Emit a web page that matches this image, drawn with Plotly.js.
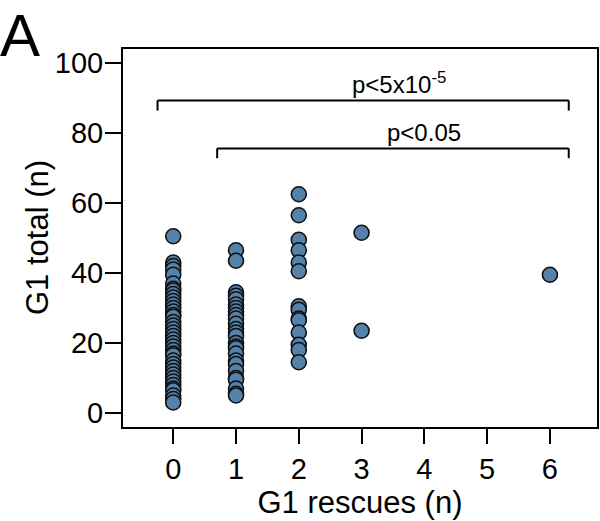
<!DOCTYPE html>
<html>
<head>
<meta charset="utf-8">
<script src="https://cdn.plot.ly/plotly-3.0.1.min.js"></script>
<style>html,body{margin:0;padding:0;background:#fff;} #chart{width:600px;height:521px;}</style>
</head>
<body>
<div id="chart"></div>
<script>
// G1 total (n) values for each G1 rescues (n) group
const rescues0 = [50.5, 43, 42, 41, 39.5, 37, 35.5, 35, 34, 33, 32, 31, 30, 29, 28, 27.5, 26, 25, 24, 23, 22, 21, 20, 19, 18, 17, 16.5, 15, 14, 13, 12, 11, 10, 9, 8, 7, 6.5, 5, 4, 3];
const rescues1 = [46.5, 43.5, 34.5, 33.5, 32.5, 31, 30, 29, 28, 27, 25.5, 24, 23, 22, 20, 19, 18.5, 17, 15, 14, 12, 10, 9.5, 7, 5.5, 5];
const rescues2 = [62.5, 56.5, 49.5, 46.5, 43, 40.5, 30.5, 29.5, 27, 26.5, 23, 19.5, 18, 14.5];
const rescues3 = [51.5, 23.5];
const rescues6 = [39.5];

const groupX = [0, 1, 2, 3, 6];
const groupVals = [rescues0, rescues1, rescues2, rescues3, rescues6];
const xs = [], ys = [];
groupX.forEach((g, i) => groupVals[i].forEach(v => { xs.push(g); ys.push(v); }));

const xTicks = [0, 1, 2, 3, 4, 5, 6];
const yTicks = [0, 20, 40, 60, 80, 100];

// significance brackets
const bracketStart = [-0.25, 0.7];
const bracketEnd = [6.3, 6.3];
const bracketY = [89.3, 75.6];
const bracketDrop = [86.4, 72.8];
const bracketLabel = ['p&lt;5x10<sup>-5</sup>', 'p&lt;0.05'];
const bracketLabelX = [3.6, 4.0];

const FONT = 'Liberation Sans, Arial, sans-serif';

const shapes = [];
const annotations = [];
for (let i = 0; i < bracketStart.length; i++) {
  shapes.push({type: 'line', xref: 'x', yref: 'y', x0: bracketStart[i], x1: bracketEnd[i], y0: bracketY[i], y1: bracketY[i], line: {color: '#000', width: 2}});
  shapes.push({type: 'line', xref: 'x', yref: 'y', x0: bracketStart[i], x1: bracketStart[i], y0: bracketY[i], y1: bracketDrop[i], line: {color: '#000', width: 2}});
  shapes.push({type: 'line', xref: 'x', yref: 'y', x0: bracketEnd[i], x1: bracketEnd[i], y0: bracketY[i], y1: bracketDrop[i], line: {color: '#000', width: 2}});
  annotations.push({xref: 'x', yref: 'y', x: bracketLabelX[i], y: bracketY[i], text: bracketLabel[i], showarrow: false, xanchor: 'center', yanchor: 'bottom', yshift: 0, font: {family: FONT, size: 24, color: '#000'}});
}
// panel letter
annotations.push({xref: 'paper', yref: 'paper', x: 0, y: 1, xanchor: 'left', yanchor: 'top', text: 'A', showarrow: false, xshift: -125, yshift: 49, font: {family: FONT, size: 60, color: '#000'}});
// y axis title
annotations.push({xref: 'paper', yref: 'paper', x: 0, y: 0.5, xanchor: 'center', yanchor: 'middle', text: 'G1 total (n)', textangle: -90, showarrow: false, xshift: -86, font: {family: FONT, size: 31, color: '#000'}});

const trace = {
  x: xs, y: ys, type: 'scatter', mode: 'markers',
  marker: {size: 15, color: '#5482aa', line: {color: '#111', width: 1.6}},
  cliponaxis: false, hoverinfo: 'skip'
};

const layout = {
  width: 600, height: 521,
  margin: {l: 123, r: 3, t: 49, b: 94},
  paper_bgcolor: '#fff', plot_bgcolor: '#fff',
  showlegend: false,
  font: {family: FONT, color: '#000'},
  xaxis: {
    range: [-0.8, 6.75], tickvals: xTicks, ticktext: xTicks.map(String),
    showgrid: false, zeroline: false, showline: true, mirror: true, linecolor: '#000', linewidth: 2,
    ticks: 'outside', ticklen: 15, tickwidth: 2, tickcolor: '#000',
    tickfont: {family: FONT, size: 29, color: '#000'},
    title: {text: 'G1 rescues (n)', font: {family: FONT, size: 31, color: '#000'}, standoff: 6}
  },
  yaxis: {
    range: [-4, 104], tickvals: yTicks, ticktext: yTicks.map(String),
    showgrid: false, zeroline: false, showline: true, mirror: true, linecolor: '#000', linewidth: 2,
    ticks: 'outside', ticklen: 16, tickwidth: 2, tickcolor: '#000',
    ticklabelstandoff: -4,
    tickfont: {family: FONT, size: 29, color: '#000'}
  },
  shapes: shapes,
  annotations: annotations
};

Plotly.newPlot('chart', [trace], layout, {displayModeBar: false, staticPlot: true});
</script>
</body>
</html>
